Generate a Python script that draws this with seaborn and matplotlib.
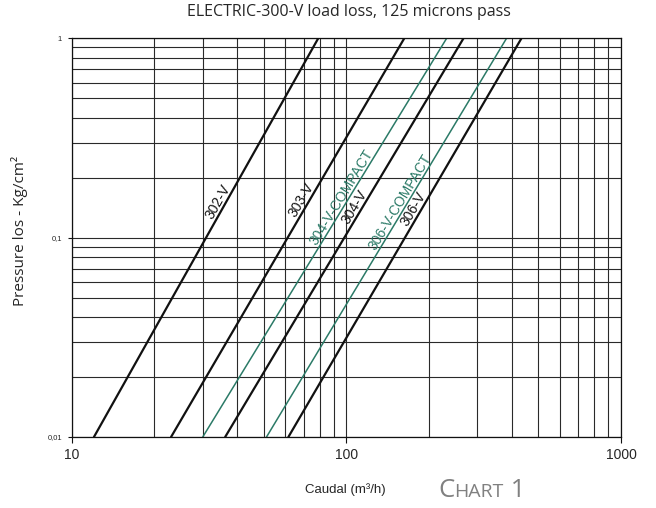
import numpy as np
import pandas as pd
import matplotlib
matplotlib.use('Agg')
import matplotlib.pyplot as plt
import matplotlib.ticker as mticker
import seaborn as sns

# curves: flow (m3/h) at 0.01 and at 1 kg/cm2
series = ['302-V', '303-V', '304-V-COMPACT', '304-V', '306-V-COMPACT', '306-V']
flow_at_001 = [12.05, 23.0, 30.0, 36.2, 51.2, 61.5]
flow_at_1 = [79.0, 162.5, 231.8, 267.0, 383.0, 434.0]
pressure_ends = [0.01, 1.0]
label_y = [0.151, 0.155, 0.160, 0.143, 0.151, 0.140]

x_ticks = [10, 100, 1000]
x_labels = ['10', '100', '1000']
y_ticks = [0.01, 0.1, 1]
y_labels = ['0,01', '0,1', '1']

black = '#111111'
green = '#2b7a67'
colors = [black, black, green, black, green, black]
widths = [1.6, 1.6, 1.1, 1.6, 1.1, 1.6]

rows = []
for name, lo, hi in zip(series, flow_at_001, flow_at_1):
    rows.append((name, lo, pressure_ends[0]))
    rows.append((name, hi, pressure_ends[1]))
df = pd.DataFrame(rows, columns=['series', 'flow', 'pressure'])

sns.set_style('white')
plt.rcParams['font.family'] = ['Liberation Sans', 'DejaVu Sans']

fig = plt.figure(figsize=(6.56, 5.08), dpi=100)
ax = fig.add_axes([0.1093, 0.1398, 0.8374, 0.7848])

for name, col, lw in zip(series, colors, widths):
    sns.lineplot(data=df[df['series'] == name], x='flow', y='pressure',
                 color=col, linewidth=lw, ax=ax, legend=False)

ax.set_xscale('log')
ax.set_yscale('log')
ax.set_xlim(10, 1000)
ax.set_ylim(0.01, 1)

ax.xaxis.set_major_locator(mticker.FixedLocator(x_ticks))
ax.xaxis.set_major_formatter(mticker.FixedFormatter(x_labels))
ax.yaxis.set_major_locator(mticker.FixedLocator(y_ticks))
ax.yaxis.set_major_formatter(mticker.FixedFormatter(y_labels))
ax.xaxis.set_minor_locator(mticker.LogLocator(base=10, subs=np.arange(2, 10)))
ax.yaxis.set_minor_locator(mticker.LogLocator(base=10, subs=np.arange(2, 10)))
ax.xaxis.set_minor_formatter(mticker.NullFormatter())
ax.yaxis.set_minor_formatter(mticker.NullFormatter())

ax.grid(True, which='both', color='#2a2a2a', linewidth=0.8)
ax.set_axisbelow(True)
ax.tick_params(axis='x', which='major', direction='out', length=4, width=0.8,
               labelsize=10, pad=4, bottom=True, color=black)
ax.tick_params(axis='y', which='major', direction='out', length=3, width=0.8,
               labelsize=5.5, pad=4, left=True, color=black)
ax.tick_params(which='minor', length=0)
for sp in ax.spines.values():
    sp.set_color(black)
    sp.set_linewidth(0.9)

ax.set_xlabel('')
ax.set_ylabel('')

# rotated labels sitting just above each curve
for name, lo, hi, col, ly in zip(series, flow_at_001, flow_at_1, colors, label_y):
    t = (np.log10(ly) - np.log10(pressure_ends[0])) / (np.log10(pressure_ends[1]) - np.log10(pressure_ends[0]))
    lx = 10 ** (np.log10(lo) + t * (np.log10(hi) - np.log10(lo)))
    p0 = ax.transData.transform((lo, pressure_ends[0]))
    p1 = ax.transData.transform((hi, pressure_ends[1]))
    ang = np.degrees(np.arctan2(p1[1] - p0[1], p1[0] - p0[0]))
    ax.annotate(name, (lx, ly), xytext=(-6, 0), textcoords='offset points',
                rotation=ang, ha='center', va='center', fontsize=10, color=col)

fig.text(0.532, 0.976, 'ELECTRIC-300-V load loss, 125 microns pass',
         ha='center', va='center', fontsize=11.5, family='Open Sans')
fig.text(0.030, 0.545, 'Pressure los - Kg/cm²', rotation=90,
         ha='center', va='center', fontsize=11, family='Open Sans')
fig.text(0.527, 0.036, 'Caudal (m³/h)', ha='center', va='center', fontsize=9.5)

# small caps "CHART 1"
gray = '#808080'
fig.canvas.draw()
r = fig.canvas.get_renderer()
x0, yb = 0.668, 0.022
t1 = fig.text(x0, yb, 'C', fontsize=18.5, color=gray, family='Open Sans', va='baseline')
bb = t1.get_window_extent(r)
t2 = fig.text(bb.x1 / fig.bbox.width, yb, 'HART', fontsize=14, color=gray,
              family='Open Sans', va='baseline')
bb = t2.get_window_extent(r)
fig.text(bb.x1 / fig.bbox.width, yb, ' 1', fontsize=18.5, color=gray,
         family='Open Sans', va='baseline')

fig.savefig('out.png', dpi=100)
